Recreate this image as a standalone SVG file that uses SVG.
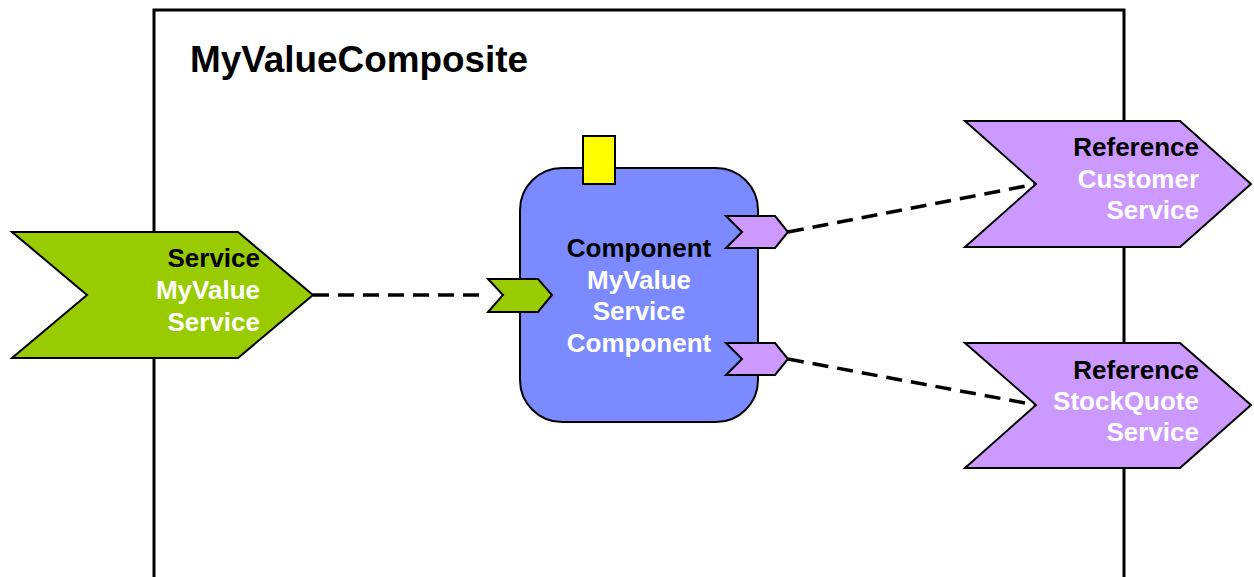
<svg xmlns="http://www.w3.org/2000/svg" width="1254" height="577" viewBox="0 0 1254 577">
<style>
.t{font-family:"Liberation Sans",Arial,sans-serif;font-weight:bold;font-size:26px}
.k{fill:#000}
.w{fill:#fff}
.ln{stroke:#000;stroke-width:2;stroke-linejoin:miter}
.dash{fill:none;stroke:#000;stroke-width:3.5;stroke-dasharray:16 9}
</style>
<rect width="1254" height="577" fill="#fff"/>
<g id="composite">
<path d="M154 590 V10 H1124 V590" fill="none" stroke="#000" stroke-width="3"/>
<text x="190" y="72" class="t" style="font-size:36px" fill="#000" textLength="338" lengthAdjust="spacingAndGlyphs">MyValueComposite</text>
</g>
<g id="connectors">
<line class="dash" x1="313" y1="295" x2="488" y2="295"/>
<line class="dash" x1="788" y1="232" x2="1036" y2="184"/>
<line class="dash" x1="788" y1="359" x2="1036" y2="405"/>
</g>
<g id="service">
<polygon class="ln" fill="#99CC00" points="12,232 238,232 313,295 238,358 12,358 87,295"/>
<text class="t k" x="260" y="267" text-anchor="end">Service</text>
<text class="t w" x="260" y="299" text-anchor="end">MyValue</text>
<text class="t w" x="260" y="331" text-anchor="end">Service</text>
</g>
<g id="component">
<rect class="ln" x="520" y="168" width="238" height="254" rx="42" fill="#7B8BFF"/>
<rect class="ln" x="583" y="136" width="32" height="48" fill="#FFFF00"/>
<polygon class="ln" fill="#99CC00" points="488,279 538,279 552,295 538,312 488,312 503,295"/>
<polygon class="ln" fill="#CC99FF" points="726,216 775,216 788,232 775,248 726,248 742,232"/>
<polygon class="ln" fill="#CC99FF" points="726,343 775,343 788,359 775,375 726,375 742,359"/>
<text class="t k" x="639" y="257" text-anchor="middle">Component</text>
<text class="t w" x="639" y="289" text-anchor="middle">MyValue</text>
<text class="t w" x="639" y="320" text-anchor="middle">Service</text>
<text class="t w" x="639" y="352" text-anchor="middle">Component</text>
</g>
<g id="refCustomer">
<polygon class="ln" fill="#CC99FF" points="965,121 1180,121 1251,184 1180,247 965,247 1036,184"/>
<text class="t k" x="1199" y="156" text-anchor="end">Reference</text>
<text class="t w" x="1199" y="188" text-anchor="end">Customer</text>
<text class="t w" x="1199" y="219" text-anchor="end">Service</text>
</g>
<g id="refStockQuote">
<polygon class="ln" fill="#CC99FF" points="965,343 1180,343 1251,405 1180,468 965,468 1036,405"/>
<text class="t k" x="1199" y="379" text-anchor="end">Reference</text>
<text class="t w" x="1199" y="410" text-anchor="end">StockQuote</text>
<text class="t w" x="1199" y="441" text-anchor="end">Service</text>
</g>
</svg>
